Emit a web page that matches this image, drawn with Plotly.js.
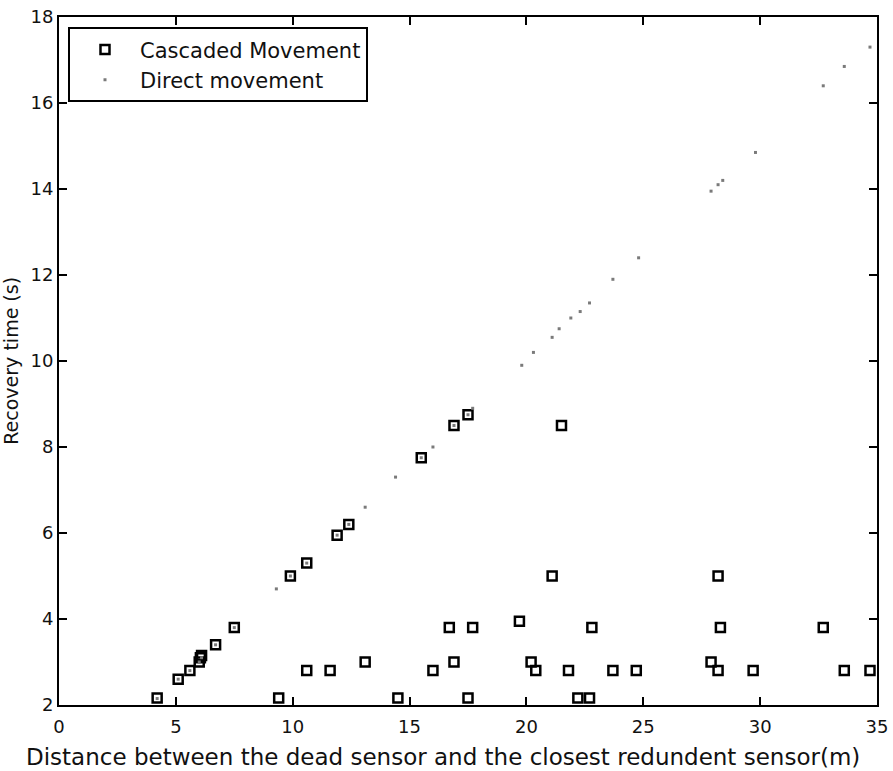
<!DOCTYPE html>
<html>
<head>
<meta charset="utf-8">
<script src="https://cdn.plot.ly/plotly-3.0.1.min.js"></script>
<style>html,body{margin:0;padding:0;background:#fff;}#chart{width:893px;height:771px;}</style>
</head>
<body>
<div id="chart"></div>
<script>
// Cascaded Movement (open squares)
var cascadedX = [4.2, 5.1, 5.6, 6.0, 6.05, 6.1, 6.7, 7.5, 9.4, 9.9, 10.6, 10.6, 11.6, 11.9, 12.4, 13.1, 14.5, 15.5, 16.0, 16.7, 16.9, 16.9, 17.5, 17.5, 17.7, 19.7, 20.2, 20.4, 21.1, 21.5, 21.8, 22.2, 22.7, 22.8, 23.7, 24.7, 27.9, 28.2, 28.2, 28.3, 29.7, 32.7, 33.6, 34.7];
var cascadedY = [2.16, 2.6, 2.8, 3.0, 3.1, 3.15, 3.4, 3.8, 2.16, 5.0, 5.3, 2.8, 2.8, 5.95, 6.2, 3.0, 2.16, 7.75, 2.8, 3.8, 3.0, 8.5, 8.75, 2.16, 3.8, 3.95, 3.0, 2.8, 5.0, 8.5, 2.8, 2.16, 2.16, 3.8, 2.8, 2.8, 3.0, 2.8, 5.0, 3.8, 2.8, 3.8, 2.8, 2.8];

// Direct movement (small grey dots)
var directX = [4.2, 5.1, 5.6, 6.0, 6.1, 6.7, 7.5, 9.3, 9.9, 10.6, 11.9, 12.4, 13.1, 14.4, 15.5, 16.0, 16.9, 17.5, 17.7, 19.8, 20.3, 21.1, 21.4, 21.9, 22.3, 22.7, 23.7, 24.8, 27.9, 28.2, 28.4, 29.8, 32.7, 33.6, 34.7];
var directY = [2.15, 2.6, 2.8, 3.0, 3.1, 3.4, 3.8, 4.7, 5.0, 5.3, 5.95, 6.2, 6.6, 7.3, 7.75, 8.0, 8.5, 8.75, 8.9, 9.9, 10.2, 10.55, 10.75, 11.0, 11.15, 11.35, 11.9, 12.4, 13.95, 14.1, 14.2, 14.85, 16.4, 16.85, 17.3];

var xTickVals = [0, 5, 10, 15, 20, 25, 30, 35];
var yTickVals = [2, 4, 6, 8, 10, 12, 14, 16, 18];

var xTitle = "Distance between the dead sensor and the closest redundent sensor(m)";
var yTitle = "Recovery time (s)";
var seriesNames = ["Cascaded Movement", "Direct movement"];

var FONT = "DejaVu Sans, Arial, sans-serif";

var traces = [
  {
    x: cascadedX, y: cascadedY, type: "scatter", mode: "markers", name: seriesNames[0],
    marker: {symbol: "square-open", size: 9, color: "#000", line: {width: 2.5, color: "#000"}}
  },
  {
    x: directX, y: directY, type: "scatter", mode: "markers", name: seriesNames[1],
    marker: {symbol: "square", size: 3, color: "#7a7a7a"}
  }
];

var axisCommon = {
  showgrid: false, zeroline: false, showline: true, linewidth: 2, linecolor: "#000",
  mirror: "ticks", ticks: "inside", ticklen: 8, tickwidth: 2, tickcolor: "#000",
  tickfont: {family: FONT, size: 18, color: "#111"}
};

var layout = {
  width: 893, height: 771,
  paper_bgcolor: "#fff", plot_bgcolor: "#fff",
  margin: {l: 59, r: 16, t: 17, b: 66},
  showlegend: true,
  legend: {
    x: 0.011, y: 0.985, xanchor: "left", yanchor: "top",
    bordercolor: "#000", borderwidth: 2, bgcolor: "#fff",
    font: {family: FONT, size: 21, color: "#111"},
    itemwidth: 60, tracegroupgap: 0
  },
  xaxis: Object.assign({}, axisCommon, {
    range: [0, 35], tickvals: xTickVals, ticktext: xTickVals.map(String),
    ticklabelstandoff: 4
  }),
  yaxis: Object.assign({}, axisCommon, {
    range: [2, 18], tickvals: yTickVals, ticktext: yTickVals.map(String)
  }),
  annotations: [
    {
      text: xTitle, xref: "paper", yref: "paper", x: 0.47, y: -0.0756,
      xanchor: "center", yanchor: "middle", showarrow: false,
      font: {family: FONT, size: 23, color: "#111"}
    },
    {
      text: yTitle, xref: "paper", yref: "paper", x: -0.059, y: 0.5,
      xanchor: "center", yanchor: "middle", textangle: -90, showarrow: false,
      font: {family: FONT, size: 19, color: "#111"}
    }
  ]
};

Plotly.newPlot("chart", traces, layout, {displayModeBar: false, staticPlot: true});
</script>
</body>
</html>
